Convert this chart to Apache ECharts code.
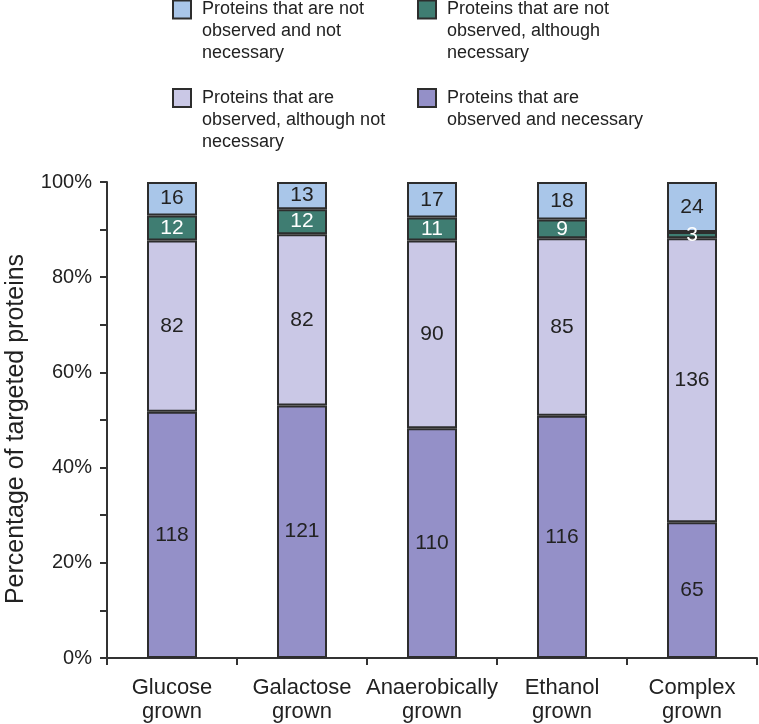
<!DOCTYPE html>
<html>
<head>
<meta charset="utf-8">
<script src="https://cdn.jsdelivr.net/npm/echarts@6/dist/echarts.min.js"></script>
<style>
html,body{margin:0;padding:0;background:#fff;}
#chart{width:759px;height:724px;}
</style>
</head>
<body>
<div id="chart"></div>
<script>
// ---- data ----
const categories = ['Glucose\ngrown', 'Galactose\ngrown', 'Anaerobically\ngrown', 'Ethanol\ngrown', 'Complex\ngrown'];
const seriesNames = [
  'Proteins that are\nobserved and necessary',
  'Proteins that are\nobserved, although not\nnecessary',
  'Proteins that are not\nobserved, although\nnecessary',
  'Proteins that are not\nobserved and not\nnecessary'
];
const observedNecessary = [118, 121, 110, 116, 65];
const observedNotNecessary = [82, 82, 90, 85, 136];
const notObservedNecessary = [12, 12, 11, 9, 3];
const notObservedNotNecessary = [16, 13, 17, 18, 24];
const yTicks = [0, 20, 40, 60, 80, 100];

const counts = [observedNecessary, observedNotNecessary, notObservedNecessary, notObservedNotNecessary];
const totals = categories.map((c, i) => counts.reduce((s, arr) => s + arr[i], 0));

const colors = ['#9490c8', '#cac8e6', '#3f7d72', '#a9c6e9'];
const labelColors = ['#222', '#222', '#fff', '#222'];
const FONT = 'Liberation Sans, Arial, sans-serif';

const series = counts.map((arr, k) => ({
  name: seriesNames[k],
  type: 'bar',
  stack: 'total',
  barWidth: 50,
  data: arr.map((v, i) => v / totals[i] * 100),
  itemStyle: { color: colors[k], borderColor: '#2d2d2d', borderWidth: 2 },
  label: {
    show: true,
    position: 'inside',
    color: labelColors[k],
    fontSize: 21,
    fontFamily: FONT,
    formatter: p => String(arr[p.dataIndex])
  },
  emphasis: { disabled: true }
}));

const LH = 22;
const ICON = 18;
function legendItem(k, left, iconTop) {
  const n = seriesNames[k].split('\n').length;
  const totalLines = 2 * n - 1;
  const top = iconTop + ICON / 2 - totalLines * LH / 2;
  return {
    data: [seriesNames[k]],
    left: left,
    top: top,
    padding: 0,
    itemWidth: ICON,
    itemHeight: ICON,
    selectedMode: false,
    icon: 'rect',
    formatter: name => '\n'.repeat(n - 1) + name,
    textStyle: {
      fontSize: 18,
      fontFamily: FONT,
      color: '#222',
      lineHeight: LH,
      padding: [0, 0, 0, 6]
    }
  };
}

const option = {
  backgroundColor: '#fff',
  animation: false,
  legend: [
    legendItem(3, 172, 0.5),
    legendItem(2, 417, 0.5),
    legendItem(1, 172, 89),
    legendItem(0, 417, 89)
  ],
  grid: { left: 107, right: 2, top: 182, bottom: 66, containLabel: false, outerBoundsMode: 'none' },
  xAxis: {
    type: 'category',
    data: categories,
    axisLine: { show: true, lineStyle: { color: '#333', width: 2 } },
    axisTick: { show: true, interval: 0, length: 7, lineStyle: { color: '#333', width: 2 } },
    axisLabel: { interval: 0, fontSize: 22, lineHeight: 24, color: '#222', fontFamily: FONT, margin: 18 },
    splitLine: { show: false }
  },
  yAxis: {
    type: 'value',
    min: yTicks[0],
    max: yTicks[yTicks.length - 1],
    interval: yTicks[1] - yTicks[0],
    name: 'Percentage of targeted proteins',
    nameLocation: 'middle',
    nameGap: 78,
    nameTextStyle: { fontSize: 25, color: '#222', fontFamily: FONT, padding: [0, 18, 0, 0] },
    axisLine: { show: true, lineStyle: { color: '#333', width: 2 } },
    axisTick: { show: true, length: 7, lineStyle: { color: '#333', width: 2 } },
    minorTick: { show: true, splitNumber: 2, length: 7, lineStyle: { color: '#333', width: 2 } },
    axisLabel: { formatter: '{value}%', fontSize: 20, color: '#222', fontFamily: FONT, margin: 15 },
    splitLine: { show: false }
  },
  series: series
};

const chart = echarts.init(document.getElementById('chart'));
chart.setOption(option);
</script>
</body>
</html>
